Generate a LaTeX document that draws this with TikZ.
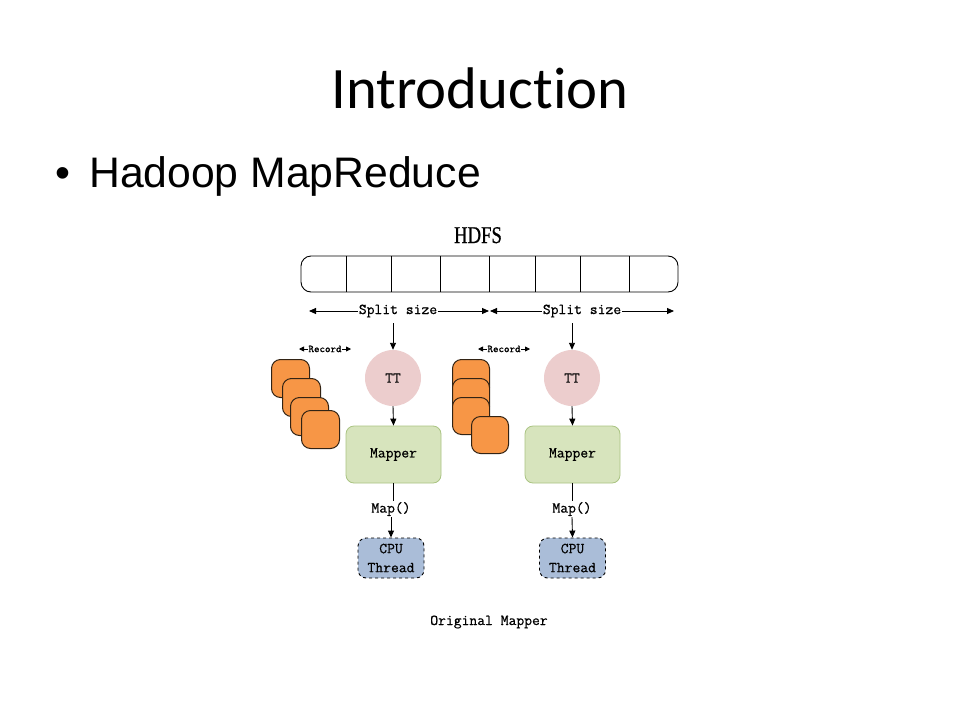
\documentclass[tikz,border=0pt]{standalone}
\usepackage{fontspec}
\newfontfamily\calibrifont[Ligatures=NoCommon]{Carlito}
\newfontfamily\arialfont{Liberation Sans}
\newfontfamily\timesfont[FakeBold=0.8]{Liberation Serif}
\newfontfamily\monofont[FakeBold=0.6]{Latin Modern Mono}
\usetikzlibrary{arrows.meta}
\definecolor{ttpink}{RGB}{236,205,205}
\definecolor{mapgreen}{RGB}{215,228,189}
\definecolor{mapborder}{RGB}{170,196,130}
\definecolor{recorange}{RGB}{247,150,70}
\definecolor{recborder}{RGB}{50,35,20}
\definecolor{cpublue}{RGB}{170,189,216}
\tikzset{
  mono/.style={font=\monofont\fontsize{15.2}{19}\selectfont},
  arr/.style={-{Triangle[length=7pt,width=6pt]}, line width=0.9pt},
  sarr/.style={-{Triangle[length=5pt,width=5pt]}, line width=0.8pt},
  plain/.style={line width=0.9pt},
  ttnode/.style={circle, fill=ttpink, minimum size=56pt, inner sep=0pt, mono},
  mapnode/.style={rounded corners=8pt, draw=mapborder, fill=mapgreen, line width=0.8pt, minimum width=95pt, minimum height=57pt, inner sep=0pt, mono},
  cpunode/.style={rounded corners=8pt, draw=black, dashed, fill=cpublue, line width=0.9pt, minimum width=66pt, minimum height=40pt, inner sep=0pt, align=center, mono},
  recnode/.style={rounded corners=9pt, draw=recborder, fill=recorange, line width=1pt, minimum size=38pt, inner sep=0pt, anchor=north west},
  lbl/.style={mono, inner sep=1pt, fill=white},
  reclbl/.style={inner sep=0.5pt, fill=white, font=\monofont\fontsize{10.5}{12}\selectfont},
}
\begin{document}
\begin{tikzpicture}[x=1pt,y=-1pt]
\useasboundingbox[fill=white] (0,0) rectangle (960,720);

% titles
\node[anchor=base, inner sep=0pt, font=\calibrifont\fontsize{58.7}{60}\selectfont] (title) at (480,108) {Introduction};
\node[anchor=base, inner sep=0pt, font=\arialfont\fontsize{42.7}{44}\selectfont] (bullet) at (63,187) {•};
\node[anchor=base west, inner sep=0pt, font=\arialfont\fontsize{42.7}{44}\selectfont] (sub) at (89,187) {Hadoop MapReduce};

% HDFS
\node[anchor=base, inner sep=0pt, font=\timesfont\fontsize{24}{26}\selectfont, xscale=0.78] (hdfs) at (478,243) {HDFS};
\draw[plain, rounded corners=10pt] (301,256) rectangle (678,292);
\foreach \x in {346,391,440,489,535,580,629} \draw[plain] (\x,256) -- (\x,292);

% split size
\node[lbl] (s1) at (398,311) {Split size};
\node[lbl] (s2) at (582,311) {Split size};
\coordinate (s1l) at (309,311);
\coordinate (s1r) at (489,311);
\coordinate (s2l) at (490,311);
\coordinate (s2r) at (674,311);
\draw[arr] (s1.west) -- (s1l);
\draw[arr] (s1.east) -- (s1r);
\draw[arr] (s2.west) -- (s2l);
\draw[arr] (s2.east) -- (s2r);

% record labels
\node[reclbl] (r1) at (325,349) {Record};
\node[reclbl] (r2) at (504,349) {Record};
\coordinate (r1l) at (299,349);
\coordinate (r1r) at (351,349);
\coordinate (r2l) at (478,349);
\coordinate (r2r) at (530,349);
\draw[sarr] (r1.west) -- (r1l);
\draw[sarr] (r1.east) -- (r1r);
\draw[sarr] (r2.west) -- (r2l);
\draw[sarr] (r2.east) -- (r2r);

% records (left)
\node[recnode] (a1) at (271,359) {};
\node[recnode] (a2) at (282,378) {};
\node[recnode] (a3) at (290,397) {};
\node[recnode] (a4) at (301,410) {};
% records (right)
\node[recnode, minimum size=37pt] (b1) at (452,359) {};
\node[recnode, minimum size=37pt] (b2) at (452,378) {};
\node[recnode, minimum size=37pt] (b3) at (452,397) {};
\node[recnode, minimum size=37pt] (b4) at (471,416) {};

% TT
\node[ttnode] (tt1) at (393,378) {TT};
\node[ttnode] (tt2) at (572,378) {TT};
\draw[arr] (tt1.north |- 0,323) -- (tt1.north);
\draw[arr] (tt2.north |- 0,323) -- (tt2.north);

% Mapper
\node[mapnode] (m1) at (393.5,454.5) {Mapper};
\node[mapnode] (m2) at (572.5,454.5) {Mapper};
\draw[arr] (tt1.south) -- (m1.north);
\draw[arr] (tt2.south) -- (m2.north);

% Map()
\node[mono, inner sep=1pt] (mp1) at (391,509) {Map()};
\node[mono, inner sep=1pt] (mp2) at (572,509) {Map()};

% CPU thread
\node[cpunode] (c1) at (391,558) {CPU\\Thread};
\node[cpunode] (c2) at (572.5,558) {CPU\\Thread};

\draw[plain] (m1.south) -- (m1.south |- mp1.north);
\draw[plain] (m2.south) -- (m2.south |- mp2.north);
\draw[arr] (mp1.south) -- (c1.north);
\draw[arr] (mp2.south) -- (c2.north);

% caption
\node[mono, inner sep=0pt] (cap) at (489,622) {Original Mapper};
\end{tikzpicture}
\end{document}
